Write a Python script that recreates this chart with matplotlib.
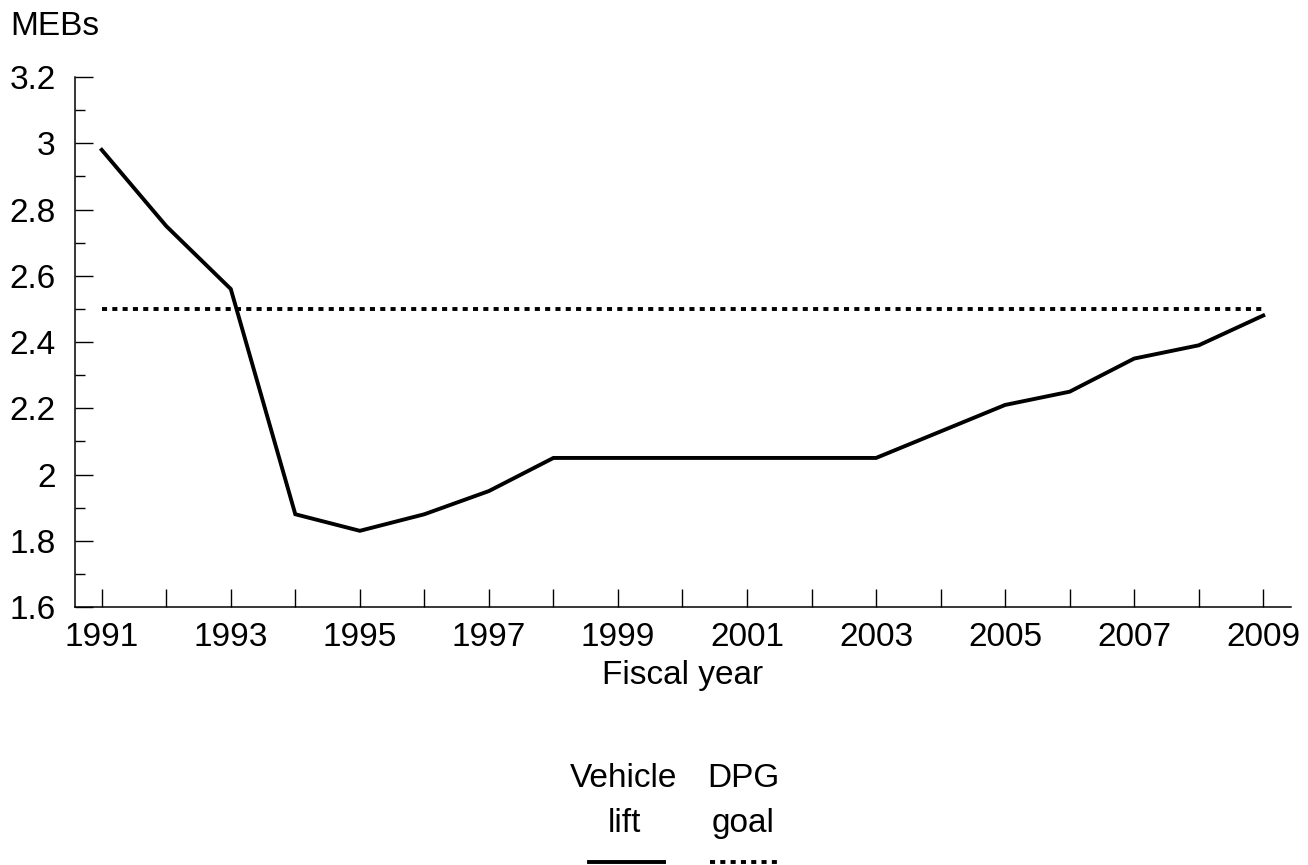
import matplotlib
matplotlib.use("Agg")
import matplotlib.pyplot as plt
from matplotlib.lines import Line2D
from matplotlib.ticker import MultipleLocator

years = list(range(1991, 2010))
vehicle_lift = [2.98, 2.75, 2.56, 1.88, 1.83, 1.88, 1.95, 2.05, 2.05, 2.05,
                2.05, 2.05, 2.05, 2.13, 2.21, 2.25, 2.35, 2.39, 2.48]
dpg_goal = [2.5] * len(years)
series_names = ["Vehicle\nlift", "DPG\ngoal"]
yticks = [1.6, 1.8, 2.0, 2.2, 2.4, 2.6, 2.8, 3.0, 3.2]
ytick_labels = ["1.6", "1.8", "2", "2.2", "2.4", "2.6", "2.8", "3", "3.2"]

plt.rcParams['font.family'] = ['Liberation Sans', 'DejaVu Sans']
FS = 24
W, H = 1308, 865
DOT = (0, (1.3, 1.35))

fig = plt.figure(figsize=(W / 100, H / 100), dpi=100)
ax = fig.add_axes([75 / W, 1 - 607 / H, (1291 - 75) / W, (607 - 77) / H])

ax.plot(years, vehicle_lift, color='black', lw=2.8, solid_joinstyle='miter')
ax.plot(years, dpg_goal, color='black', lw=2.8, linestyle=DOT, dash_capstyle='butt')

ax.set_xlim(1990.586, 2009.43)
ax.set_ylim(1.6, 3.2)
for s in ['top', 'right']:
    ax.spines[s].set_visible(False)
for s in ['left', 'bottom']:
    ax.spines[s].set_linewidth(1.1)

ax.set_xticks(years)
ax.set_xticklabels([str(y) if (y - 1991) % 2 == 0 else "" for y in years])
ax.set_yticks(yticks)
ax.set_yticklabels(ytick_labels)
ax.yaxis.set_minor_locator(MultipleLocator(0.1))
ax.tick_params(axis='x', direction='in', length=13, width=1.0, labelsize=FS, pad=11)
ax.tick_params(axis='y', which='major', direction='in', length=13, width=1.0, labelsize=FS, pad=14)
ax.tick_params(axis='y', which='minor', direction='in', length=7, width=1.0)

ax.set_xlabel("Fiscal year", fontsize=FS, labelpad=4.5)
fig.text(10 / W, 1 - 35 / H, "MEBs", fontsize=FS, ha='left', va='baseline')

# legend drawn manually below the plot
centers = [624, 743]
line_spans = [(589, 664), (710, 778)]
styles = ['-', DOT]
baselines = [786.7, 831.7]
for name, cx, (x0, x1), st in zip(series_names, centers, line_spans, styles):
    for part, by in zip(name.split("\n"), baselines):
        fig.text(cx / W, 1 - by / H, part, fontsize=FS, ha='center', va='baseline')
    fig.add_artist(Line2D([x0 / W, x1 / W], [1 - 861.5 / H, 1 - 861.5 / H],
                          transform=fig.transFigure, color='black', lw=2.8,
                          linestyle=st, dash_capstyle='butt'))

fig.savefig("out.png", dpi=100)
